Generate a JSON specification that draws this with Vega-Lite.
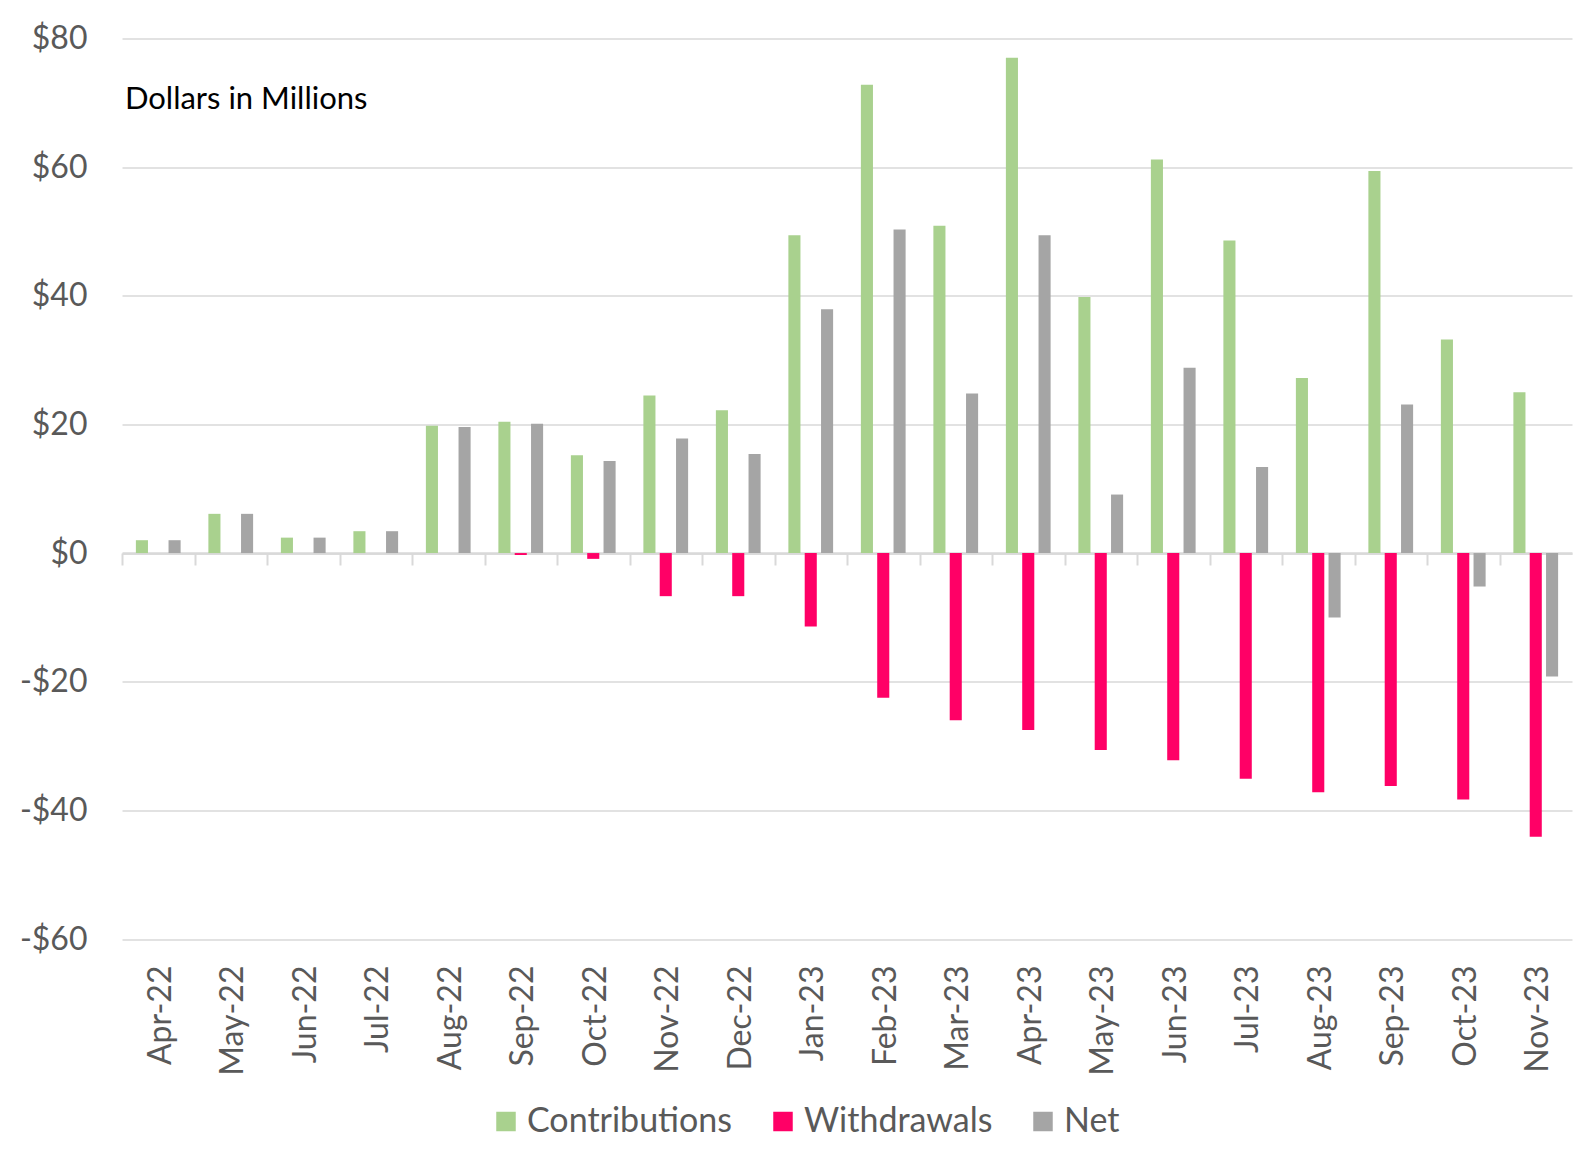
{
  "$schema": "https://vega.github.io/schema/vega-lite/v6.json",
  "width": 1450,
  "height": 900.5,
  "autosize": {"type": "none"},
  "padding": {"left": 122, "top": 38.5, "right": 18, "bottom": 215},
  "background": "white",
  "config": {"font": "Lato", "view": {"stroke": null}},
  "data": {
    "values": [
      {"month": "Apr-22", "series": "Contributions", "value": 2.0},
      {"month": "Apr-22", "series": "Withdrawals", "value": 0},
      {"month": "Apr-22", "series": "Net", "value": 2.0},
      {"month": "May-22", "series": "Contributions", "value": 6.1},
      {"month": "May-22", "series": "Withdrawals", "value": 0},
      {"month": "May-22", "series": "Net", "value": 6.1},
      {"month": "Jun-22", "series": "Contributions", "value": 2.4},
      {"month": "Jun-22", "series": "Withdrawals", "value": 0},
      {"month": "Jun-22", "series": "Net", "value": 2.4},
      {"month": "Jul-22", "series": "Contributions", "value": 3.4},
      {"month": "Jul-22", "series": "Withdrawals", "value": 0},
      {"month": "Jul-22", "series": "Net", "value": 3.4},
      {"month": "Aug-22", "series": "Contributions", "value": 19.8},
      {"month": "Aug-22", "series": "Withdrawals", "value": 0},
      {"month": "Aug-22", "series": "Net", "value": 19.6},
      {"month": "Sep-22", "series": "Contributions", "value": 20.4},
      {"month": "Sep-22", "series": "Withdrawals", "value": -0.3},
      {"month": "Sep-22", "series": "Net", "value": 20.1},
      {"month": "Oct-22", "series": "Contributions", "value": 15.2},
      {"month": "Oct-22", "series": "Withdrawals", "value": -0.9},
      {"month": "Oct-22", "series": "Net", "value": 14.3},
      {"month": "Nov-22", "series": "Contributions", "value": 24.5},
      {"month": "Nov-22", "series": "Withdrawals", "value": -6.7},
      {"month": "Nov-22", "series": "Net", "value": 17.8},
      {"month": "Dec-22", "series": "Contributions", "value": 22.2},
      {"month": "Dec-22", "series": "Withdrawals", "value": -6.7},
      {"month": "Dec-22", "series": "Net", "value": 15.4},
      {"month": "Jan-23", "series": "Contributions", "value": 49.4},
      {"month": "Jan-23", "series": "Withdrawals", "value": -11.4},
      {"month": "Jan-23", "series": "Net", "value": 37.9},
      {"month": "Feb-23", "series": "Contributions", "value": 72.8},
      {"month": "Feb-23", "series": "Withdrawals", "value": -22.5},
      {"month": "Feb-23", "series": "Net", "value": 50.3},
      {"month": "Mar-23", "series": "Contributions", "value": 50.9},
      {"month": "Mar-23", "series": "Withdrawals", "value": -26.0},
      {"month": "Mar-23", "series": "Net", "value": 24.8},
      {"month": "Apr-23", "series": "Contributions", "value": 77.0},
      {"month": "Apr-23", "series": "Withdrawals", "value": -27.5},
      {"month": "Apr-23", "series": "Net", "value": 49.4},
      {"month": "May-23", "series": "Contributions", "value": 39.8},
      {"month": "May-23", "series": "Withdrawals", "value": -30.6},
      {"month": "May-23", "series": "Net", "value": 9.1},
      {"month": "Jun-23", "series": "Contributions", "value": 61.2},
      {"month": "Jun-23", "series": "Withdrawals", "value": -32.2},
      {"month": "Jun-23", "series": "Net", "value": 28.8},
      {"month": "Jul-23", "series": "Contributions", "value": 48.6},
      {"month": "Jul-23", "series": "Withdrawals", "value": -35.1},
      {"month": "Jul-23", "series": "Net", "value": 13.4},
      {"month": "Aug-23", "series": "Contributions", "value": 27.2},
      {"month": "Aug-23", "series": "Withdrawals", "value": -37.2},
      {"month": "Aug-23", "series": "Net", "value": -10.0},
      {"month": "Sep-23", "series": "Contributions", "value": 59.4},
      {"month": "Sep-23", "series": "Withdrawals", "value": -36.2},
      {"month": "Sep-23", "series": "Net", "value": 23.1},
      {"month": "Oct-23", "series": "Contributions", "value": 33.2},
      {"month": "Oct-23", "series": "Withdrawals", "value": -38.3},
      {"month": "Oct-23", "series": "Net", "value": -5.2},
      {"month": "Nov-23", "series": "Contributions", "value": 25.0},
      {"month": "Nov-23", "series": "Withdrawals", "value": -44.1},
      {"month": "Nov-23", "series": "Net", "value": -19.2}
    ]
  },
  "encoding": {
    "x": {
      "field": "month",
      "type": "nominal",
      "sort": null,
      "scale": {"paddingInner": 0.383, "paddingOuter": 0.1915},
      "axis": {
        "title": null,
        "orient": "bottom",
        "offset": -386,
        "bandPosition": 0,
        "tickOffset": -13.85,
        "labelOffset": 16,
        "labelAngle": 270,
        "labelFontSize": 32,
        "labelColor": "#595959",
        "labelPadding": 400,
        "tickSize": 12,
        "tickColor": "#d9d9d9",
        "tickWidth": 2,
        "domainColor": "#d9d9d9",
        "domainWidth": 2.5,
        "grid": false
      }
    }
  },
  "layer": [
    {
      "mark": {"type": "bar"},
      "encoding": {
        "xOffset": {
          "field": "series",
          "type": "nominal",
          "sort": ["Contributions", "Withdrawals", "Net"],
          "scale": {"paddingInner": 0.26, "paddingOuter": 0}
        },
        "y": {
          "field": "value",
          "type": "quantitative",
          "scale": {"domain": [-60, 80], "nice": false, "zero": false},
          "axis": {
            "title": null,
            "values": [-60, -40, -20, 0, 20, 40, 60, 80],
            "labelExpr": "datum.value < 0 ? '-$' + abs(datum.value) : '$' + datum.value",
            "labelFontSize": 32,
            "labelColor": "#595959",
            "labelPadding": 35,
            "domain": false,
            "ticks": false,
            "grid": true,
            "gridColor": "#d9d9d9",
            "gridWidth": 1.5
          }
        },
        "color": {
          "field": "series",
          "type": "nominal",
          "scale": {
            "domain": ["Contributions", "Withdrawals", "Net"],
            "range": ["#A9D18E", "#FF0066", "#A5A5A5"]
          },
          "legend": {
            "title": null,
            "orient": "none",
            "direction": "horizontal",
            "legendX": 367,
            "legendY": 1066,
            "symbolType": "square",
            "symbolSize": 380,
            "symbolStrokeWidth": 0,
            "labelFontSize": 34,
            "labelLimit": 0,
            "labelColor": "#595959",
            "labelOffset": 4,
            "columnPadding": 33
          }
        }
      }
    },
    {
      "data": {"values": [{"note": "Dollars in Millions", "month": "Apr-22", "v": 70.5}]},
      "mark": {"type": "text", "align": "left", "baseline": "middle", "fontSize": 31, "color": "#000000", "dx": -11},
      "encoding": {
        "x": {"field": "month", "type": "nominal", "bandPosition": 0},
        "y": {"field": "v", "type": "quantitative"},
        "text": {"field": "note"}
      }
    }
  ]
}
